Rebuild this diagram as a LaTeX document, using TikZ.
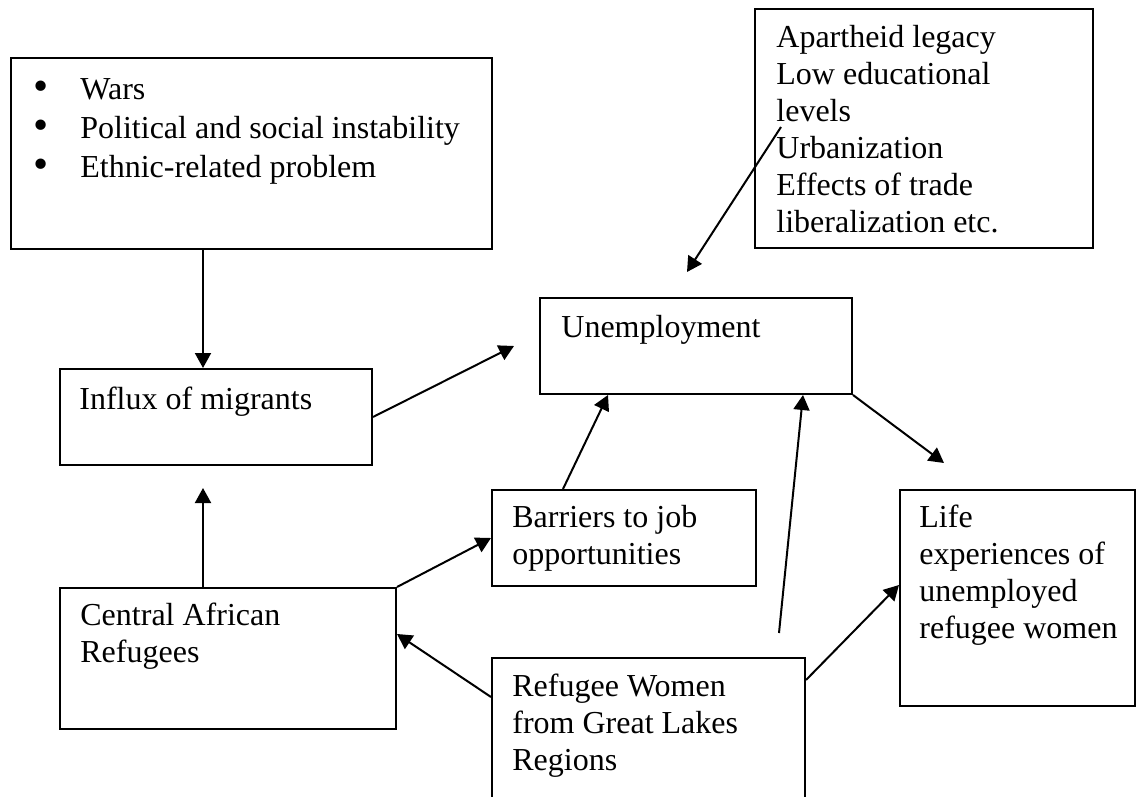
\documentclass[tikz,border=0pt]{standalone}
\usepackage{fontspec}
\setmainfont{Liberation Serif}
\usetikzlibrary{arrows.meta, calc}

\newcommand{\bul}{\makebox[23.5pt][l]{\raisebox{-0.6pt}{\scalebox{1.35}{\textbullet}}}}

\begin{document}
\begin{tikzpicture}[x=0.5pt,y=-0.5pt,
  box/.style={draw,line width=1pt,anchor=north west,inner sep=0pt},
  txt/.style={anchor=north west,inner sep=0pt,align=left,font=\fontsize{16}{18.5}\selectfont},
  arr/.style={line width=1pt,-{Triangle[length=7.5pt,width=8pt]}}]
  \useasboundingbox (0,0) rectangle (1137,797);
  % boxes
  \path (10,57) node[box,minimum width=240.5pt,minimum height=95.5pt] (wars) {}
  (754,8) node[box,minimum width=169pt,minimum height=119.5pt] (apart) {}
  (539,297) node[box,minimum width=156pt,minimum height=48pt] (unemp) {}
  (59,368) node[box,minimum width=156pt,minimum height=48pt] (influx) {}
  (491,489) node[box,minimum width=132pt,minimum height=48pt] (barriers) {}
  (59,587) node[box,minimum width=168pt,minimum height=70.5pt] (central) {}
  (491,657) node[box,minimum width=156.5pt,minimum height=85pt] (women) {}
  (899,489) node[box,minimum width=117.5pt,minimum height=108pt] (life) {};
  % texts
  \node[txt,font=\fontsize{16}{19.5}\selectfont] (warstxt) at (33,78)
    {\bul Wars\\ \bul Political and social instability\\ \bul Ethnic-related problem};
  \node[txt] (aparttxt) at (776,25) {Apartheid legacy\\ Low educational\\ levels\\ Urbanization\\ Effects of trade\\ liberalization etc.};
  \node[txt] (unemptxt) at (561,315) {Unemployment};
  \node[txt] (influxtxt) at (79,387) {Influx of migrants};
  \node[txt] (barrierstxt) at (512,505) {Barriers to job\\ opportunities};
  \node[txt] (centraltxt) at (80,603) {Central African\\ Refugees};
  \node[txt] (womentxt) at (512,674) {Refugee Women\\ from Great Lakes\\ Regions};
  \node[txt] (lifetxt) at (919,505) {Life\\ experiences of\\ unemployed\\ refugee women};
  % free ends
  \coordinate (colx) at (203,0);
  \coordinate (up) at (203,488);
  \coordinate (toUnemp) at (514,346);
  \coordinate (fromApart) at (781,127);
  \coordinate (toApart) at (687,272);
  \coordinate (fromWomen) at (779,633);
  \coordinate (toLife) at (944,463);
  % arrows
  \draw[arr] (wars.south -| colx) -- (influx.north -| colx);
  \draw[arr] (central.north -| up) -- (up);
  \draw[arr] (influx.east) -- (toUnemp);
  \draw[arr] (fromApart) -- (toApart);
  \draw[arr] (central.north east) -- (barriers.west);
  \draw[arr] ($(barriers.north west)+(72,0)$) -- ($(unemp.south west)+(69,0)$);
  \draw[arr] ($(women.north west)+(0,40)$) -- ($(central.north east)+(0,47)$);
  \draw[arr] (fromWomen) -- ($(unemp.south west)+(264,0)$);
  \draw[arr] (unemp.south east) -- (toLife);
  \draw[arr] ($(women.north east)+(0,23)$) -- ($(life.north west)+(0,96)$);
\end{tikzpicture}
\end{document}
